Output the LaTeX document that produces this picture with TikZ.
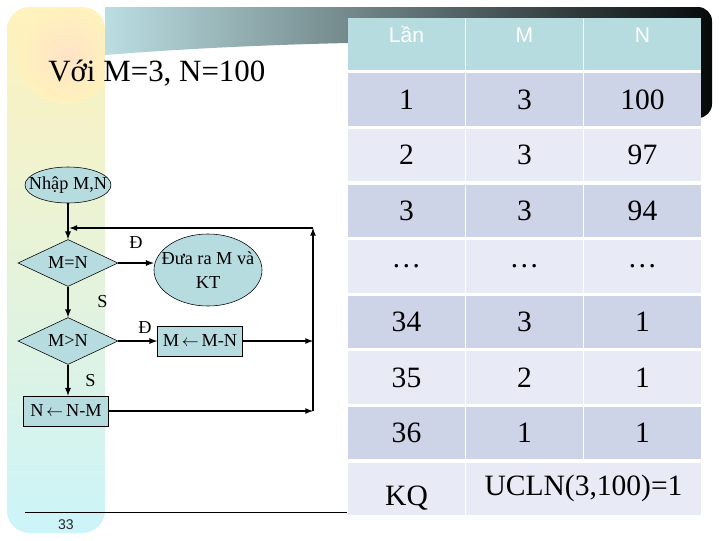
\documentclass[tikz,border=0pt]{standalone}
\usepackage{fontspec}
\setmainfont{Liberation Serif}
\setsansfont{Liberation Sans}
\usepackage{tikz}
\usetikzlibrary{arrows,shapes.geometric,positioning,calc}
\definecolor{tealfill}{HTML}{B7DCE0}
\definecolor{rowdark}{HTML}{CDD4E8}
\definecolor{rowlight}{HTML}{E8EBF5}
\definecolor{stripyellow}{HTML}{FFF2BC}
\definecolor{stripcyan}{HTML}{CCF4F9}
\definecolor{bannerleft}{HTML}{BBDEE2}
\definecolor{bannermid}{HTML}{7E9A9C}
\definecolor{bannerright}{HTML}{080A0A}

\begin{document}
\begin{tikzpicture}[x=0.025cm,y=-0.025cm,>=latex,
  flow/.style={draw=black,fill=tealfill,inner sep=0pt,font=\fontsize{13}{17}\selectfont},
  dia/.style={flow,diamond,aspect=2,minimum width=2.5cm,minimum height=1.175cm},
  oval/.style={flow,ellipse},
  procbox/.style={flow,rectangle,minimum width=2.125cm,minimum height=0.75cm},
  lbl/.style={font=\fontsize{13}{15}\selectfont},
  link/.style={line width=0.9pt},
  cell/.style={rectangle,inner sep=0pt,minimum width=2.9cm,minimum height=1.3125cm,font=\fontsize{21}{25}\selectfont},
  rowA/.style={cell,fill=rowdark},
  rowB/.style={cell,fill=rowlight},
  hdr/.style={cell,fill=tealfill,text=white,font=\sffamily\fontsize{15}{18}\selectfont,text height=0pt,text depth=2pt}]
\useasboundingbox (0,0) rectangle (720,540);
% slide background
\shade[top color=stripyellow,middle color=yellow!6,bottom color=stripcyan,rounded corners=16pt] (7,7) rectangle (105,533);
\begin{scope}
\clip[rounded corners=16pt] (7,7) rectangle (105,533);
\shade[inner color=orange!22,outer color=stripyellow] (66,55) circle (1.2cm);
\end{scope}
\shade[left color=bannerleft,middle color=bannermid,right color=bannerright] (105,7) -- (690,7) [rounded corners=10pt] -- (712,7) -- (712,118) [sharp corners] -- (701,118) -- (701,18) -- (348,18) -- (348,43) .. controls (260,45) and (180,49) .. (105,55) -- cycle;
% title
\node[anchor=base west,inner sep=0pt,font=\fontsize{22}{26}\selectfont] (ttl) at (48,81) {Với M=3, N=100};
% flowchart
\node[oval,minimum width=2.15cm,minimum height=0.9cm] (inp) at (68,185) {\makebox[0pt]{Nhập M,N}};
\node[dia] (eq) at (68,263) {M=N};
\node[oval,minimum width=2.7cm,minimum height=1.8cm,align=center] (out) at (208,270) {\makebox[0pt]{Đưa ra M và}\\\makebox[0pt]{KT}};
\node[dia] (gt) at (68,341) {M>N};
\node[procbox] (sub1) at (200,341) {M$\,\leftarrow\,$M-N};
\node[procbox] (sub2) at (66,411) {N$\,\leftarrow\,$N-M};
\coordinate (top) at (313,228);
\draw[link,->] (inp) -- (eq);
\draw[link,->] (eq) -- node[lbl,above=0.24cm] {Đ} (eq -| out.west);
\draw[link,->] (eq) -- node[lbl,right=0.6cm] {S} (gt);
\draw[link,->] (gt) -- node[lbl,above=0.05cm,xshift=0.18cm] {Đ} (sub1);
\draw[link,->] (gt) -- node[lbl,right=0.3cm] {S} (gt |- sub2.north);
\draw[link,->] (sub1) -- (sub1 -| top);
\draw[link,->] (sub2) -- (sub2 -| top);
\draw[link,->] (sub2 -| top) -- (top);
\draw[link,->,shorten >=1pt] (top) -- (top -| inp);
% footer
\draw[line width=0.7pt] (25,512) -- (347,512);
\node[font=\sffamily\fontsize{10}{12}\selectfont,text=black!85] (pg) at (66,525) {33};
% table
\node[hdr] (h1) at (406.5,44) {Lần};
\node[hdr] (h2) at (524.5,44) {M};
\node[hdr] (h3) at (642.5,44) {N};
\node[rowA] (a1) at (406.5,99.6) {1};   \node[rowA] (b1) at (524.5,99.6) {3};   \node[rowA] (c1) at (642.5,99.6) {100};
\node[rowB] (a2) at (406.5,155.2) {2};  \node[rowB] (b2) at (524.5,155.2) {3};  \node[rowB] (c2) at (642.5,155.2) {97};
\node[rowA] (a3) at (406.5,210.8) {3};  \node[rowA] (b3) at (524.5,210.8) {3};  \node[rowA] (c3) at (642.5,210.8) {94};
\node[rowB] (a4) at (406.5,266.4) {…};  \node[rowB] (b4) at (524.5,266.4) {…};  \node[rowB] (c4) at (642.5,266.4) {…};
\node[rowA] (a5) at (406.5,322) {34};   \node[rowA] (b5) at (524.5,322) {3};    \node[rowA] (c5) at (642.5,322) {1};
\node[rowB] (a6) at (406.5,377.6) {35}; \node[rowB] (b6) at (524.5,377.6) {2};  \node[rowB] (c6) at (642.5,377.6) {1};
\node[rowA] (a7) at (406.5,433.2) {36}; \node[rowA] (b7) at (524.5,433.2) {1};  \node[rowA] (c7) at (642.5,433.2) {1};
\node[rowB,text height=24pt,text depth=0pt] (kq) at (406.5,488.8) {KQ};
\node[rowB,minimum width=5.85cm] (res) at (583.5,488.8) {UCLN(3,100)=1};
\end{tikzpicture}
\end{document}
